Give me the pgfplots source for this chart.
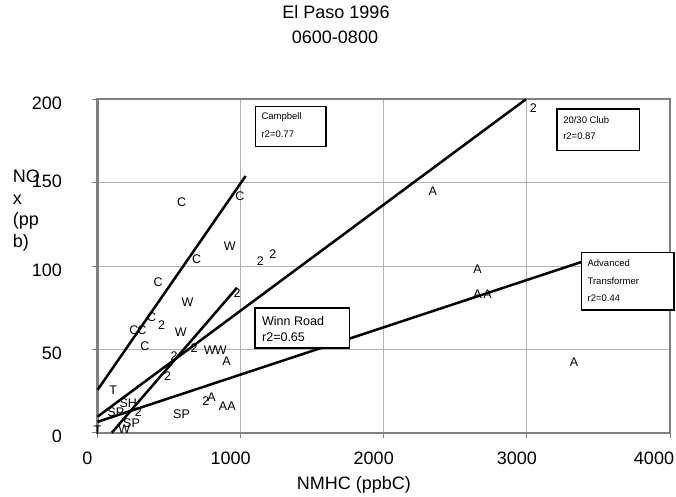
\documentclass[border=0pt]{standalone}
\usepackage{pgfplots}
\pgfplotsset{compat=1.18}
\usepackage{pgfplotstable}
\usepackage{fontspec}
\setmainfont{Liberation Sans}

% letter markers: x y site
\pgfplotstableread{
x y lab
587 138 C
994 142 C
692 104 C
424 90 C
378 69 C
255 61.6 C
310 61.6 C
331 51.6 C
924 112 W
629 78 W
582 60.2 W
784 49.2 W
861 49.2 W
187 2.2 W
1138 103 2
1226 107 2
3046 194.6 2
975 83.6 2
448 64.6 2
675 50.6 2
536 46.2 2
489 34 2
285 12.4 2
757 19 2
2342 144.6 A
2655 98.2 A
2655 83 A
2725 83 A
3330 42.2 A
901 43 A
796 21.2 A
878 15.6 A
937 15.6 A
110 25.6 T
0 1.2 T
215 17.6 SH
587 11 SP
128 12.2 SP
238 6 SP
}\pts

\begin{document}
\begin{tikzpicture}
\useasboundingbox (0,0) rectangle (676bp,497bp);
\begin{axis}[
    at={(97.5bp,64.3bp)}, anchor=south west,
    scale only axis,
    width=572.5bp, height=333.4bp,
    xmin=0, xmax=4000, ymin=0, ymax=200,
    xtick={0,1000,2000,3000,4000},
    xticklabels={0,1000,2000,3000,\hspace*{-12bp}4000},
    ytick={0,50,100,150,200},
    yticklabels={0,50,100,\raisebox{10bp}{150},200},
    xtick pos=bottom, ytick pos=left,
    tick align=outside, major tick length=5bp,
    grid=major,
    grid style={black!30, line width=0.9bp},
    axis line style={black!50, line width=2bp},
    tick style={black!50, line width=0.9bp},
    ticklabel style={font=\fontsize{18bp}{20bp}\selectfont},
    /pgf/number format/assume math mode=true,
    /pgf/number format/1000 sep={},
    yticklabel style={xshift=-27bp, yshift=-4bp},
    xticklabel style={xshift=-10bp, yshift=-11bp},
    clip=false,
]
% regression lines
\addplot[black, line width=2.5bp] coordinates {(0,25.6) (1035,154)};
\addplot[black, line width=2.5bp] coordinates {(0,9.6) (2993,200)};
\addplot[black, line width=2.5bp] coordinates {(0,6.5) (3388,102.6)};
\addplot[black, line width=2.5bp] coordinates {(100,0) (975,87)};
% site letters
\addplot[only marks, mark=none, nodes near coords, point meta=explicit symbolic,
    nodes near coords style={anchor=center, inner sep=0pt, text=black,
    font=\fontsize{12.5bp}{14bp}\selectfont}] table[x=x, y=y, meta=lab] {\pts};
% label boxes
\draw[black, line width=1.6bp, fill=white] (axis cs:1103,171.6) rectangle (axis cs:1598,195.6);
\node[anchor=west, inner sep=0pt, font=\fontsize{9.5bp}{11bp}\selectfont] at (axis cs:1145,189.6) {Campbell};
\node[anchor=west, inner sep=0pt, font=\fontsize{9.5bp}{11bp}\selectfont] at (axis cs:1145,179.0) {r2=0.77};
\draw[black, line width=1.6bp, fill=white] (axis cs:3209,169.2) rectangle (axis cs:3788,194.2);
\node[anchor=west, inner sep=0pt, font=\fontsize{9.5bp}{11bp}\selectfont] at (axis cs:3253,187.6) {20/30 Club};
\node[anchor=west, inner sep=0pt, font=\fontsize{9.5bp}{11bp}\selectfont] at (axis cs:3253,178.0) {r2=0.87};
\draw[black, line width=1.6bp, fill=white] (axis cs:3381,73.6) rectangle (axis cs:4027,108.2);
\node[anchor=west, inner sep=0pt, font=\fontsize{9.5bp}{11bp}\selectfont] at (axis cs:3423,101.6) {Advanced};
\node[anchor=west, inner sep=0pt, font=\fontsize{9.5bp}{11bp}\selectfont] at (axis cs:3423,91.2) {Transformer};
\node[anchor=west, inner sep=0pt, font=\fontsize{9.5bp}{11bp}\selectfont] at (axis cs:3423,80.6) {r2=0.44};
\draw[black, line width=1.8bp, fill=white] (axis cs:1098,50.6) rectangle (axis cs:1761,75);
\node[anchor=west, inner sep=0pt, font=\fontsize{12.5bp}{14bp}\selectfont] at (axis cs:1149,67.2) {Winn Road};
\node[anchor=west, inner sep=0pt, font=\fontsize{12.5bp}{14bp}\selectfont] at (axis cs:1149,57.0) {r2=0.65};
\end{axis}
% titles and axis labels
\node[anchor=base, font=\fontsize{18bp}{20bp}\selectfont] at (336bp,478bp) {El Paso 1996};
\node[anchor=base, font=\fontsize{18bp}{20bp}\selectfont] at (335bp,453bp) {0600-0800};
\node[anchor=base, font=\fontsize{18bp}{20bp}\selectfont] at (354bp,7.7bp) {NMHC (ppbC)};
\node[anchor=base west, inner sep=0pt, font=\fontsize{18bp}{20bp}\selectfont] at (12.7bp,314.3bp) {NO};
\node[anchor=base west, inner sep=0pt, font=\fontsize{18bp}{20bp}\selectfont] at (12.7bp,292.7bp) {x};
\node[anchor=base west, inner sep=0pt, font=\fontsize{18bp}{20bp}\selectfont] at (12.7bp,271.2bp) {(pp};
\node[anchor=base west, inner sep=0pt, font=\fontsize{18bp}{20bp}\selectfont] at (12.7bp,249.7bp) {b)};
\end{tikzpicture}
\end{document}
